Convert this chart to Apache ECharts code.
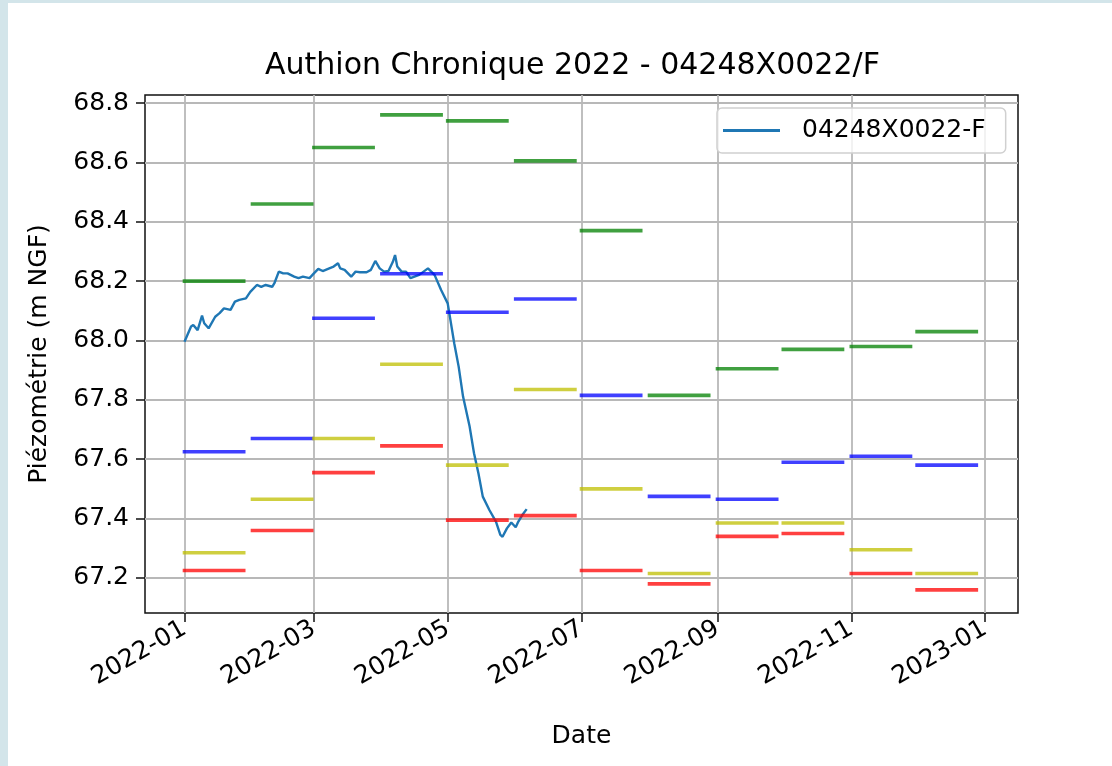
<!DOCTYPE html>
<html>
<head>
<meta charset="utf-8">
<script src="https://cdn.jsdelivr.net/npm/echarts@6/dist/echarts.min.js"></script>
<style>
  html, body { margin: 0; padding: 0; background: #fff; }
  #edgeLeft { position: absolute; left: 0; top: 0; width: 8px; height: 766px; background: #d3e5ea; }
  #edgeTop { position: absolute; left: 0; top: 0; width: 1112px; height: 3px; background: #d3e5ea; }
  #chart { position: absolute; left: 0; top: 0; width: 1112px; height: 766px; }
</style>
</head>
<body>
<div id="edgeLeft"></div>
<div id="edgeTop"></div>
<div id="chart"></div>
<script>
// monthly reference levels (one segment per month)
var monthStarts = ['2022-01-01', '2022-02-01', '2022-03-01', '2022-04-01', '2022-05-01', '2022-06-01',
                   '2022-07-01', '2022-08-01', '2022-09-01', '2022-10-01', '2022-11-01', '2022-12-01'];
var greenVals  = [68.20, 68.46, 68.65, 68.76, 68.74, 68.605, 68.37, 67.815, 67.905, 67.97, 67.98, 68.03];
var blueVals   = [67.625, 67.67, 68.075, 68.225, 68.095, 68.14, 67.815, 67.475, 67.465, 67.59, 67.61, 67.58];
var yellowVals = [67.285, 67.465, 67.67, 67.92, 67.58, 67.835, 67.50, 67.215, 67.385, 67.385, 67.295, 67.215];
var redVals    = [67.225, 67.36, 67.555, 67.645, 67.395, 67.41, 67.225, 67.18, 67.34, 67.35, 67.215, 67.16];

// measured piezometry
var lineName = '04248X0022-F';
var lineDates = ['2022-01-01', '2022-01-04', '2022-01-05', '2022-01-07', '2022-01-09', '2022-01-10',
                 '2022-01-12', '2022-01-15', '2022-01-17', '2022-01-19', '2022-01-22', '2022-01-24',
                 '2022-01-26', '2022-01-29', '2022-01-31', '2022-02-03', '2022-02-05', '2022-02-07',
                 '2022-02-10', '2022-02-11', '2022-02-13', '2022-02-15', '2022-02-17', '2022-02-20',
                 '2022-02-22', '2022-02-24', '2022-02-27', '2022-03-01', '2022-03-03', '2022-03-05',
                 '2022-03-08', '2022-03-10', '2022-03-12', '2022-03-13', '2022-03-15', '2022-03-18',
                 '2022-03-20', '2022-03-22', '2022-03-25', '2022-03-27', '2022-03-29', '2022-03-31',
                 '2022-04-02', '2022-04-04', '2022-04-06', '2022-04-07', '2022-04-08', '2022-04-10',
                 '2022-04-12', '2022-04-14', '2022-04-18', '2022-04-22', '2022-04-25', '2022-04-28',
                 '2022-05-01', '2022-05-04', '2022-05-06', '2022-05-08', '2022-05-11', '2022-05-13',
                 '2022-05-15', '2022-05-17', '2022-05-20', '2022-05-23', '2022-05-25', '2022-05-26',
                 '2022-05-28', '2022-05-30', '2022-06-01', '2022-06-02', '2022-06-04', '2022-06-06'];
var lineVals = [67.996, 68.047, 68.052, 68.035, 68.084, 68.058,
                68.041, 68.080, 68.092, 68.108, 68.103, 68.131,
                68.137, 68.142, 68.164, 68.187, 68.181, 68.187,
                68.181, 68.193, 68.232, 68.226, 68.226, 68.215,
                68.210, 68.215, 68.210, 68.226, 68.241, 68.234,
                68.243, 68.249, 68.260, 68.243, 68.238, 68.215,
                68.232, 68.230, 68.230, 68.238, 68.268, 68.243,
                68.232, 68.234, 68.265, 68.288, 68.249, 68.232,
                68.232, 68.210, 68.221, 68.243, 68.221, 68.170,
                68.125, 67.990, 67.912, 67.811, 67.710, 67.620,
                67.553, 67.474, 67.429, 67.390, 67.345, 67.339,
                67.367, 67.387, 67.371, 67.387, 67.412, 67.432];

var xTicks = ['2022-01-01', '2022-03-01', '2022-05-01', '2022-07-01', '2022-09-01', '2022-11-01', '2023-01-01'];
var yTicks = [67.2, 67.4, 67.6, 67.8, 68.0, 68.2, 68.4, 68.6, 68.8];

function toTime(s) {
    var p = s.split('-');
    return new Date(+p[0], +p[1] - 1, +p[2]).getTime();
}
function pad(n) { return n < 10 ? '0' + n : '' + n; }

var DAY = 24 * 3600 * 1000;
var font = 'DejaVu Sans';

var series = [{
    name: lineName,
    type: 'line',
    data: lineDates.map((d, i) => [toTime(d), lineVals[i]]),
    symbol: 'none',
    lineStyle: { color: '#1f77b4', width: 2.4 },
    itemStyle: { color: '#1f77b4' },
    z: 2
}];

var bands = [
    { vals: greenVals, color: 'rgba(0,128,0,0.75)' },
    { vals: blueVals, color: 'rgba(0,0,255,0.75)' },
    { vals: yellowVals, color: 'rgba(191,191,0,0.75)' },
    { vals: redVals, color: 'rgba(255,0,0,0.75)' }
];
bands.forEach(b => {
    monthStarts.forEach((m, i) => {
        var t0 = toTime(m);
        series.push({
            type: 'line',
            data: [[t0, b.vals[i]], [t0 + 27 * DAY, b.vals[i]]],
            symbol: 'none',
            silent: true,
            lineStyle: { color: b.color, width: 3.6, cap: 'square' },
            z: 3
        });
    });
});

var chart = echarts.init(document.getElementById('chart'));
chart.setOption({
    animation: false,
    backgroundColor: 'transparent',
    title: {
        text: 'Authion Chronique 2022 - 04248X0022/F',
        left: 260,
        top: 46,
        textStyle: { fontFamily: font, fontSize: 30, fontWeight: 'normal', color: '#000' }
    },
    legend: {
        data: [{ name: lineName, icon: 'rect' }],
        left: 717,
        top: 108,
        orient: 'vertical',
        itemWidth: 57,
        itemHeight: 3,
        padding: [10, 20, 10, 6],
        borderColor: '#d0d0d0',
        borderWidth: 1.5,
        borderRadius: 5,
        backgroundColor: 'rgba(255,255,255,0.8)',
        textStyle: { fontFamily: font, fontSize: 25, color: '#000', padding: [0, 0, 0, 17] }
    },
    grid: {
        left: 145, right: 94, top: 95, bottom: 153,
        show: true,
        borderColor: '#111',
        borderWidth: 1.5,
        backgroundColor: 'transparent'
    },
    xAxis: {
        type: 'value',
        min: toTime('2021-12-14'),
        max: toTime('2023-01-16'),
        name: 'Date',
        nameLocation: 'middle',
        nameGap: 111,
        nameTextStyle: { fontFamily: font, fontSize: 25, color: '#000' },
        axisLine: { show: false },
        axisTick: {
            show: true, length: 9, inside: false,
            customValues: xTicks.map(toTime),
            lineStyle: { color: '#111', width: 1.5 }
        },
        axisLabel: {
            customValues: xTicks.map(toTime),
            rotate: 30,
            margin: 14,
            fontFamily: font, fontSize: 25, color: '#000',
            formatter: function (v) {
                var d = new Date(v);
                return d.getFullYear() + '-' + pad(d.getMonth() + 1);
            }
        },
        splitLine: { show: true, lineStyle: { color: '#b8b8b8', width: 1.8 } }
    },
    yAxis: {
        type: 'value',
        min: 67.082,
        max: 68.827,
        name: 'Piézométrie (m NGF)',
        nameLocation: 'middle',
        nameGap: 93,
        nameTextStyle: { fontFamily: font, fontSize: 25, color: '#000' },
        axisLine: { show: false },
        axisTick: {
            show: true, length: 9, inside: false,
            customValues: yTicks,
            lineStyle: { color: '#111', width: 1.5 }
        },
        axisLabel: {
            customValues: yTicks,
            margin: 16,
            fontFamily: font, fontSize: 25, color: '#000',
            formatter: v => v.toFixed(1)
        },
        splitLine: { show: true, lineStyle: { color: '#b8b8b8', width: 1.8 } }
    },
    series: series
});
</script>
</body>
</html>
